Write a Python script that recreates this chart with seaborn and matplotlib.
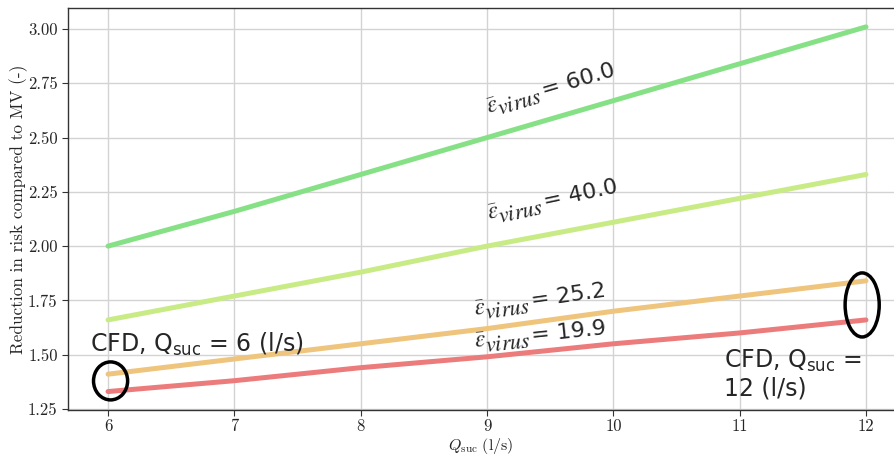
import matplotlib
matplotlib.use("Agg")
import math
import matplotlib.pyplot as plt
from matplotlib.patches import Ellipse
from matplotlib.transforms import offset_copy
import seaborn as sns
import pandas as pd

# ---- data ----
q_suc = [6, 7, 8, 9, 10, 11, 12]
risk_eps_60_0 = [2.00, 2.16, 2.33, 2.50, 2.67, 2.84, 3.01]
risk_eps_40_0 = [1.66, 1.77, 1.88, 2.00, 2.11, 2.22, 2.33]
risk_eps_25_2 = [1.41, 1.48, 1.55, 1.62, 1.70, 1.77, 1.84]
risk_eps_19_9 = [1.33, 1.38, 1.44, 1.49, 1.55, 1.60, 1.66]
eps_labels = ["60.0", "40.0", "25.2", "19.9"]
y_ticks = [1.25, 1.50, 1.75, 2.00, 2.25, 2.50, 2.75, 3.00]
colors = ["#86e186", "#c8eb86", "#efc47c", "#ec7b7b"]

series = [risk_eps_60_0, risk_eps_40_0, risk_eps_25_2, risk_eps_19_9]
rows = []
for lab, vals in zip(eps_labels, series):
    for q, v in zip(q_suc, vals):
        rows.append({"Q": q, "risk": v, "eps": lab})
df = pd.DataFrame(rows)

sns.set_style("whitegrid")
plt.rcParams["mathtext.fontset"] = "cm"
plt.rcParams["font.family"] = ["DejaVu Sans"]

fig = plt.figure(figsize=(8.94, 4.57), dpi=100)
ax = fig.add_axes([68 / 894, 1 - 410 / 457, 1 - 68 / 894, (410 - 8) / 457])

sns.lineplot(data=df, x="Q", y="risk", hue="eps", hue_order=eps_labels,
             palette=colors, linewidth=3.6, legend=False, ax=ax)

ax.set_xlim(5.683, 12.222)
ax.set_ylim(1.245, 3.097)
ax.set_xticks(q_suc)
ax.set_xticklabels([str(q) for q in q_suc], fontfamily="cmr10")
ax.set_yticks(y_ticks)
ax.set_yticklabels(["%.2f" % v for v in y_ticks], fontfamily="cmr10")
ax.tick_params(axis="both", labelsize=12, length=4, color="#333333",
               left=True, bottom=True)
ax.tick_params(axis="x", pad=2.5)
ax.grid(color="#d3d3d3", linewidth=1.0)
for side in ["left", "bottom", "top"]:
    ax.spines[side].set_color("#333333")
    ax.spines[side].set_linewidth(1.0)
ax.spines["right"].set_visible(False)

ax.set_xlabel(r"$Q_{\mathrm{suc}}\ \mathrm{(l/s)}$", fontsize=11.5)
ax.xaxis.set_label_coords(0.5, -0.064)
ax.set_ylabel("Reduction in risk compared to MV (-)", fontfamily="cmr10",
              fontsize=12.4, labelpad=0)


def place(x, y, rot, along, perp, s, **kw):
    t = math.radians(rot)
    dx = along * math.cos(t) - perp * math.sin(t)
    dy = along * math.sin(t) + perp * math.cos(t)
    tr = offset_copy(ax.transData, fig=fig, x=dx, y=dy, units="points")
    ax.text(x, y, s, transform=tr, rotation=rot, rotation_mode="anchor",
            ha="left", va="baseline", **kw)


# annotations of epsilon
ann = [(9.01, 2.61, 16.5, "60.0"), (9.01, 2.12, 12, "40.0"),
       (8.90, 1.68, 8, "25.2"), (8.90, 1.53, 6, "19.9")]
for x, y, rot, lab in ann:
    place(x, y, rot, 0, 0, r"$\bar{\varepsilon}$", fontsize=17,
          math_fontfamily="stix")
    place(x, y, rot, 7.6, -3.5, r"$\mathit{virus}$", fontsize=16,
          math_fontfamily="stix")
    place(x, y, rot, 41.8, 0, "= " + lab, fontsize=16)

ax.text(5.86, 1.515, r"CFD, Q$_{\mathrm{suc}}$ = 6 (l/s)", fontsize=17,
        ha="left", va="baseline", math_fontfamily="dejavusans")
ax.text(10.88, 1.312, "CFD, Q$_{\\mathrm{suc}}$ =\n12 (l/s)", fontsize=17,
        ha="left", va="baseline", linespacing=1.15,
        math_fontfamily="dejavusans")

ax.add_patch(Ellipse((6.02, 1.379), 0.27, 0.175, fill=False,
                     edgecolor="black", linewidth=2.5, zorder=5))
ax.add_patch(Ellipse((11.97, 1.729), 0.27, 0.295, fill=False,
                     edgecolor="black", linewidth=2.5, zorder=5))

fig.savefig("out.png", dpi=100)
